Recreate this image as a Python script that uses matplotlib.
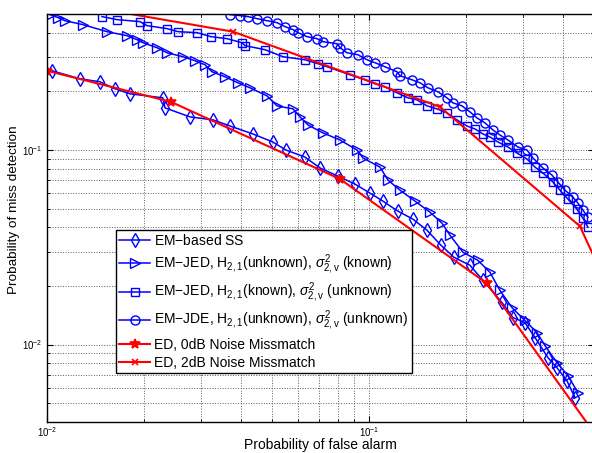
import matplotlib
matplotlib.use('Agg')
import matplotlib.pyplot as plt
from matplotlib.ticker import NullFormatter

plt.rcParams['font.family'] = ['Liberation Sans', 'DejaVu Sans']
plt.rcParams['mathtext.fontset'] = 'custom'
plt.rcParams['mathtext.rm'] = 'Liberation Sans'
plt.rcParams['mathtext.it'] = 'Liberation Sans:italic'

# EM-based SS
pf_ss = [0.01036, 0.01266, 0.0146, 0.01626, 0.01811, 0.02291, 0.02326, 0.0278, 0.03278, 0.0370,
         0.0436, 0.0503, 0.0552, 0.0632, 0.0705, 0.0801, 0.0905, 0.1007, 0.1105, 0.1230,
         0.1370, 0.1514, 0.1673, 0.1836, 0.2059, 0.226, 0.2588, 0.280, 0.305, 0.3278,
         0.3597, 0.3837, 0.412, 0.4365]
pm_ss = [0.2554, 0.2323, 0.2242, 0.2063, 0.1944, 0.1854, 0.1646, 0.148, 0.1428, 0.1329,
         0.1209, 0.1099, 0.1, 0.0920, 0.0808, 0.0734, 0.0668, 0.06003, 0.0546, 0.0485,
         0.0441, 0.0387, 0.0324, 0.0281, 0.02555, 0.02138, 0.01646, 0.01377, 0.01298, 0.01087,
         0.00857, 0.0076, 0.00652, 0.00533]

# EM-JED, H unknown, sigma known
pf_jed1 = [0.01022, 0.01082, 0.01137, 0.01294, 0.01536, 0.01772, 0.01904, 0.01987, 0.02196, 0.02359,
           0.02645, 0.02882, 0.03095, 0.03254, 0.03571, 0.03919, 0.04271, 0.04823, 0.05179, 0.05808,
           0.06106, 0.06466, 0.07197, 0.08128, 0.0918, 0.0958, 0.1082, 0.1146, 0.1248, 0.139,
           0.1547, 0.1685, 0.1785, 0.1959, 0.218, 0.2376, 0.2551, 0.278, 0.305, 0.3325,
           0.3521, 0.3837, 0.415, 0.4457]
pm_jed1 = [0.4965, 0.479, 0.462, 0.4408, 0.4057, 0.3869, 0.369, 0.356, 0.3356, 0.3162,
           0.3016, 0.2875, 0.2743, 0.2524, 0.2379, 0.2215, 0.2087, 0.1898, 0.1686, 0.1627,
           0.1480, 0.1345, 0.1224, 0.1126, 0.1, 0.0910, 0.0817, 0.0700, 0.0622, 0.0546,
           0.0479, 0.0421, 0.0365, 0.0298, 0.0271, 0.0235, 0.0190, 0.0155, 0.0133, 0.01153,
           0.00988, 0.00807, 0.00692, 0.00566]

# EM-JED, H known, sigma unknown
pf_jed2 = [0.01482, 0.0165, 0.01945, 0.02045, 0.02359, 0.02552, 0.02924, 0.03231, 0.03624, 0.04032,
           0.0412, 0.04754, 0.05406, 0.0632, 0.06944, 0.0741, 0.0873, 0.0972, 0.1044, 0.1121,
           0.1222, 0.1322, 0.1409, 0.1514, 0.1627, 0.1747, 0.1876, 0.2015, 0.2134, 0.226,
           0.2376, 0.2516, 0.2702, 0.2882, 0.3095, 0.3278, 0.3471, 0.3727, 0.3920, 0.415,
           0.4426, 0.4620, 0.4788]
pm_jed2 = [0.4848, 0.4678, 0.4569, 0.4357, 0.4205, 0.4057, 0.401, 0.3824, 0.3734, 0.356,
           0.3437, 0.3278, 0.3016, 0.2910, 0.2776, 0.2678, 0.2436, 0.2296, 0.2189, 0.2112,
           0.1967, 0.1854, 0.1810, 0.1686, 0.1627, 0.1551, 0.1428, 0.1329, 0.1283, 0.1209,
           0.1167, 0.1099, 0.1036, 0.0965, 0.0899, 0.0817, 0.0761, 0.0684, 0.0622, 0.0559,
           0.0496, 0.0446, 0.0401]

# EM-JDE, both unknown
pf_jde = [0.03701, 0.03976, 0.04210, 0.04489, 0.04823, 0.05179, 0.05483, 0.05808, 0.06021, 0.06422,
          0.06895, 0.07197, 0.07955, 0.0813, 0.0854, 0.0924, 0.0986, 0.1044, 0.1121, 0.1222,
          0.1248, 0.1360, 0.1440, 0.1525, 0.1638, 0.1747, 0.1823, 0.1945, 0.2059, 0.2165,
          0.2292, 0.2427, 0.2551, 0.2702, 0.2902, 0.3095, 0.3231, 0.3471, 0.3701, 0.3864,
          0.4062, 0.4301, 0.4457, 0.4620, 0.4788]
pm_jde = [0.4965, 0.4906, 0.4848, 0.4734, 0.462, 0.4515, 0.4306, 0.4156, 0.401, 0.3824,
          0.3734, 0.3603, 0.3518, 0.3356, 0.3162, 0.3088, 0.2910, 0.2809, 0.2678, 0.2524,
          0.2407, 0.2296, 0.2215, 0.2087, 0.1990, 0.1854, 0.1747, 0.1686, 0.1570, 0.1462,
          0.1378, 0.1268, 0.1195, 0.1126, 0.1036, 0.1, 0.0910, 0.0808, 0.0743, 0.0684,
          0.0622, 0.0572, 0.0533, 0.0491, 0.0451]

# ED curves
pf_ed0 = [0.01, 0.02427, 0.0813, 0.2325, 0.77]
pm_ed0 = [0.2554, 0.1768, 0.0709, 0.02063, 0.0013]
pf_ed2 = [0.01, 0.03781, 0.1662, 0.4521, 0.7462]
pm_ed2 = [0.593, 0.4057, 0.1665, 0.04058, 0.00668]

labels = ['EM$-$based SS',
          r'EM$-$JED, H$_{2,1}$(unknown), $\sigma^2_{2,\mathrm{v}}$ (known)',
          r'EM$-$JED, H$_{2,1}$(known), $\sigma^2_{2,\mathrm{v}}$ (unknown)',
          r'EM$-$JDE, H$_{2,1}$(unknown), $\sigma^2_{2,\mathrm{v}}$ (unknown)',
          'ED, 0dB Noise Missmatch',
          'ED, 2dB Noise Missmatch']

fig = plt.figure(figsize=(5.92, 4.53), dpi=100)
ax = fig.add_axes([47 / 592, 31 / 453, 547 / 592, 408 / 453])

blue = (0, 0, 1)
red = (1, 0, 0)
kw = dict(color=blue, lw=1.1, mfc='none', mec=blue, mew=1.0)
ax.plot(pf_ss, pm_ss, marker='d', ms=7, label=labels[0], **kw)
ax.plot(pf_jed1, pm_jed1, marker='>', ms=7, label=labels[1], **kw)
ax.plot(pf_jed2, pm_jed2, marker='s', ms=5.5, label=labels[2], **kw)
ax.plot(pf_jde, pm_jde, marker='o', ms=6.5, label=labels[3], **kw)
ax.plot(pf_ed0, pm_ed0, color=red, lw=1.5, marker='*', ms=7, mew=1.2, label=labels[4])
ax.plot(pf_ed2, pm_ed2, color=red, lw=1.5, marker='x', ms=4.5, mew=1.2, label=labels[5])

ax.set_xscale('log')
ax.set_yscale('log')
ax.set_xlim(0.01, 0.5)
ax.set_ylim(0.004, 0.5)
ax.xaxis.set_minor_formatter(NullFormatter())
ax.yaxis.set_minor_formatter(NullFormatter())
ax.tick_params(which='both', direction='in', top=True, right=True, labelsize=7)
ax.tick_params(axis='x', pad=2.5)
ax.tick_params(which='major', length=4)
ax.tick_params(which='minor', length=2)
ax.grid(True, which='both', linestyle=':', color='0.35', linewidth=0.7)
for s in ax.spines.values():
    s.set_linewidth(1.0)

ax.set_xlabel('Probability of false alarm', fontsize=10)
ax.xaxis.set_label_coords(0.5, -0.04)
ax.set_ylabel('Probability of miss detection', fontsize=9.7)
ax.yaxis.set_label_coords(-0.049, 0.52)

leg = ax.legend(loc='upper left', bbox_to_anchor=(0.126, 0.471), borderaxespad=0,
                fontsize=10, fancybox=False, edgecolor='black', framealpha=1,
                handlelength=2.2, labelspacing=0.3, handletextpad=0.3, borderpad=0.25)
leg.get_frame().set_linewidth(1.0)

fig.savefig('out.png', dpi=100)
